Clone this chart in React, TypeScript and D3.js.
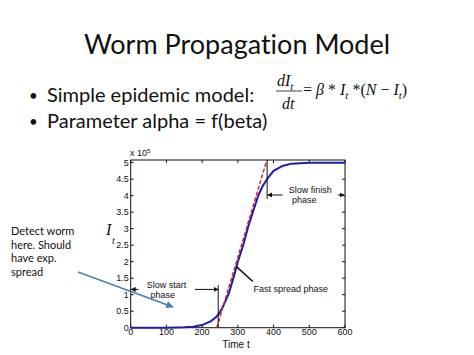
import React from 'react';
import * as d3 from 'd3';

// infected hosts I_t (x 10^5) over time t
const timeT = [0, 50, 100, 150, 175, 200, 225, 240, 250, 260, 275, 290, 300, 315, 330, 345, 357, 370, 385, 400, 425, 450, 500, 550, 600];
const infected = [0, 0, 0, 0.01, 0.03, 0.08, 0.2, 0.33, 0.47, 0.68, 1.05, 1.6, 2.0, 2.5, 3.1, 3.6, 4.0, 4.3, 4.55, 4.75, 4.9, 4.97, 5.0, 5.0, 5.0];

// red dashed tangent through the fast spread phase
const tangentT = [241, 381];
const tangentI = [0, 5.07];

const xTicks = [0, 100, 200, 300, 400, 500, 600];
const yTicks = [0, 0.5, 1, 1.5, 2, 2.5, 3, 3.5, 4, 4.5, 5];
const yTickLabels = ['0', '0.5', '1', '1.5', '2', '2.5', '3', '3.5', '4', '4.5', '5'];

// phase boundaries (t) and annotation heights (I)
const slowStartEnd = 245;
const slowStartLevel = 1.16;
const slowStartTop = 1.29;
const slowFinishStart = 382;
const slowFinishLevel = 4.02;
const slowFinishBottom = 3.9;

const W = 474;
const H = 355;

export default function App() {
    const x = d3.scaleLinear().domain([0, 600]).range([130.7, 345]);
    const y = d3.scaleLinear().domain([0, 5.08]).range([327.7, 160]);

    const line = d3.line<number>()
        .x((d, i) => x(timeT[i]))
        .y(d => y(d));

    const tangent = d3.line<number>()
        .x((d, i) => x(tangentT[i]))
        .y(d => y(d));

    const [x0, x1] = x.range();
    const [y0, y1] = y.range();
    const ann = {fontFamily: 'Liberation Sans, Arial, sans-serif', fontSize: 9, fill: '#111'};
    const slide = {fontFamily: 'Lato, Open Sans, sans-serif', fill: '#111', fontVariantLigatures: 'none'};
    const serif = {fontFamily: 'Liberation Serif, Times New Roman, serif', fill: '#111'};

    return (
        <svg width={W} height={H} style={{position: 'absolute', left: 0, top: 0, background: '#fff'}}>
            <defs>
                <marker id="ah" viewBox="0 0 10 10" refX="9" refY="5" markerWidth="5" markerHeight="5" orient="auto-start-reverse">
                    <path d="M0,0 L10,5 L0,10 z" fill="#111"/>
                </marker>
                <marker id="bh" viewBox="0 0 10 10" refX="9" refY="5" markerWidth="5" markerHeight="5" orient="auto">
                    <path d="M0,0 L10,5 L0,10 z" fill="#4a7ebb"/>
                </marker>
            </defs>

            <text x={237} y={54} textAnchor="middle" style={{...slide, fontSize: 27}}>Worm Propagation Model</text>

            <text x={29} y={101} style={{...slide, fontSize: 15}}>•</text>
            <text x={47} y={102} style={{...slide, fontSize: 20}}>Simple epidemic model:</text>
            <text x={29} y={127} style={{...slide, fontSize: 15}}>•</text>
            <text x={47} y={128} style={{...slide, fontSize: 20}}>Parameter alpha = f(beta)</text>

            {/* formula */}
            <text x={277} y={86} style={{...serif, fontSize: 16, fontStyle: 'italic'}}>dI<tspan dy={4} fontSize={11}>t</tspan></text>
            <line x1={276} x2={302} y1={91} y2={91} stroke="#111" strokeWidth={0.8}/>
            <text x={282} y={109} style={{...serif, fontSize: 16, fontStyle: 'italic'}}>dt</text>
            <text x={303} y={95} style={{...serif, fontSize: 16}}>= <tspan fontStyle="italic">β</tspan> * <tspan fontStyle="italic">I</tspan><tspan dy={4} fontSize={11} fontStyle="italic">t</tspan><tspan dy={-4}> *(</tspan><tspan fontStyle="italic">N</tspan> − <tspan fontStyle="italic">I</tspan><tspan dy={4} fontSize={11} fontStyle="italic">t</tspan><tspan dy={-4}>)</tspan></text>

            {/* side note */}
            <g style={{...slide, fontSize: 11}}>
                <text x={11} y={235}>Detect worm</text>
                <text x={11} y={248.5}>here. Should</text>
                <text x={11} y={262}>have exp.</text>
                <text x={11} y={275.5}>spread</text>
            </g>

            {/* plot box */}
            <rect x={x0} y={y1} width={x1 - x0} height={y0 - y1} fill="#fff" stroke="#111" strokeWidth={1}/>
            {xTicks.map(t => (
                <g key={'x' + t}>
                    <line x1={x(t)} x2={x(t)} y1={y0} y2={y0 - 3} stroke="#111"/>
                    <line x1={x(t)} x2={x(t)} y1={y1} y2={y1 + 3} stroke="#111"/>
                    <text x={x(t)} y={y0 + 7.5} textAnchor="middle" style={ann}>{t}</text>
                </g>
            ))}
            {yTicks.map((v, i) => (
                <g key={'y' + v}>
                    <line x1={x0} x2={x0 + 3} y1={y(v)} y2={y(v)} stroke="#111"/>
                    <line x1={x1} x2={x1 - 3} y1={y(v)} y2={y(v)} stroke="#111"/>
                    <text x={x0 - 2} y={y(v) + 3} textAnchor="end" style={ann}>{yTickLabels[i]}</text>
                </g>
            ))}
            <text x={130} y={156} style={ann}>x 10<tspan dy={-3} fontSize={6}>5</tspan></text>
            <text x={236} y={348} textAnchor="middle" style={{...ann, fontSize: 10}}>Time t</text>
            <text x={106} y={235} style={{...serif, fontSize: 16, fontStyle: 'italic'}}>I</text>
            <text x={112} y={244} style={{...serif, fontSize: 10, fontStyle: 'italic'}}>t</text>

            {/* curves */}
            <path d={line(infected) ?? ''} fill="none" stroke="#1c1ca8" strokeWidth={2}/>
            <path d={tangent(tangentI) ?? ''} fill="none" stroke="#d42a2a" strokeWidth={1.5} strokeDasharray="4,2"/>

            {/* slow start annotation */}
            <line x1={x(slowStartEnd)} x2={x(slowStartEnd)} y1={y(0)} y2={y(slowStartTop)} stroke="#111" strokeWidth={1}/>
            <line x1={x(22)} x2={x(0) + 0.5} y1={y(slowStartLevel)} y2={y(slowStartLevel)} stroke="#111" markerEnd="url(#ah)"/>
            <line x1={x(180)} x2={x(slowStartEnd)} y1={y(slowStartLevel)} y2={y(slowStartLevel)} stroke="#111" markerEnd="url(#ah)"/>
            <text x={x(100)} y={y(1.2)} textAnchor="middle" style={ann}>Slow start</text>
            <text x={x(90)} y={y(0.9)} textAnchor="middle" style={ann}>phase</text>

            {/* fast spread annotation */}
            <line x1={x(342)} x2={x(296)} y1={y(1.4)} y2={y(1.85)} stroke="#111" strokeWidth={1.5}/>
            <text x={x(448)} y={y(1.08)} textAnchor="middle" style={ann}>Fast spread phase</text>

            {/* slow finish annotation */}
            <line x1={x(slowFinishStart)} x2={x(slowFinishStart)} y1={y(slowFinishBottom)} y2={y(5.08)} stroke="#111" strokeWidth={1}/>
            <line x1={x(425)} x2={x(slowFinishStart) + 0.5} y1={y(slowFinishLevel)} y2={y(slowFinishLevel)} stroke="#111" markerEnd="url(#ah)"/>
            <line x1={x(580)} x2={x(600) - 1} y1={y(slowFinishLevel)} y2={y(slowFinishLevel)} stroke="#111" markerEnd="url(#ah)"/>
            <text x={x(503)} y={y(4.07)} textAnchor="middle" style={ann}>Slow finish</text>
            <text x={x(486)} y={y(3.77)} textAnchor="middle" style={ann}>phase</text>

            {/* blue pointer from the note */}
            <line x1={78} y1={272} x2={173} y2={307} stroke="#4a7ebb" strokeWidth={1.5} markerEnd="url(#bh)"/>
        </svg>
    );
}
